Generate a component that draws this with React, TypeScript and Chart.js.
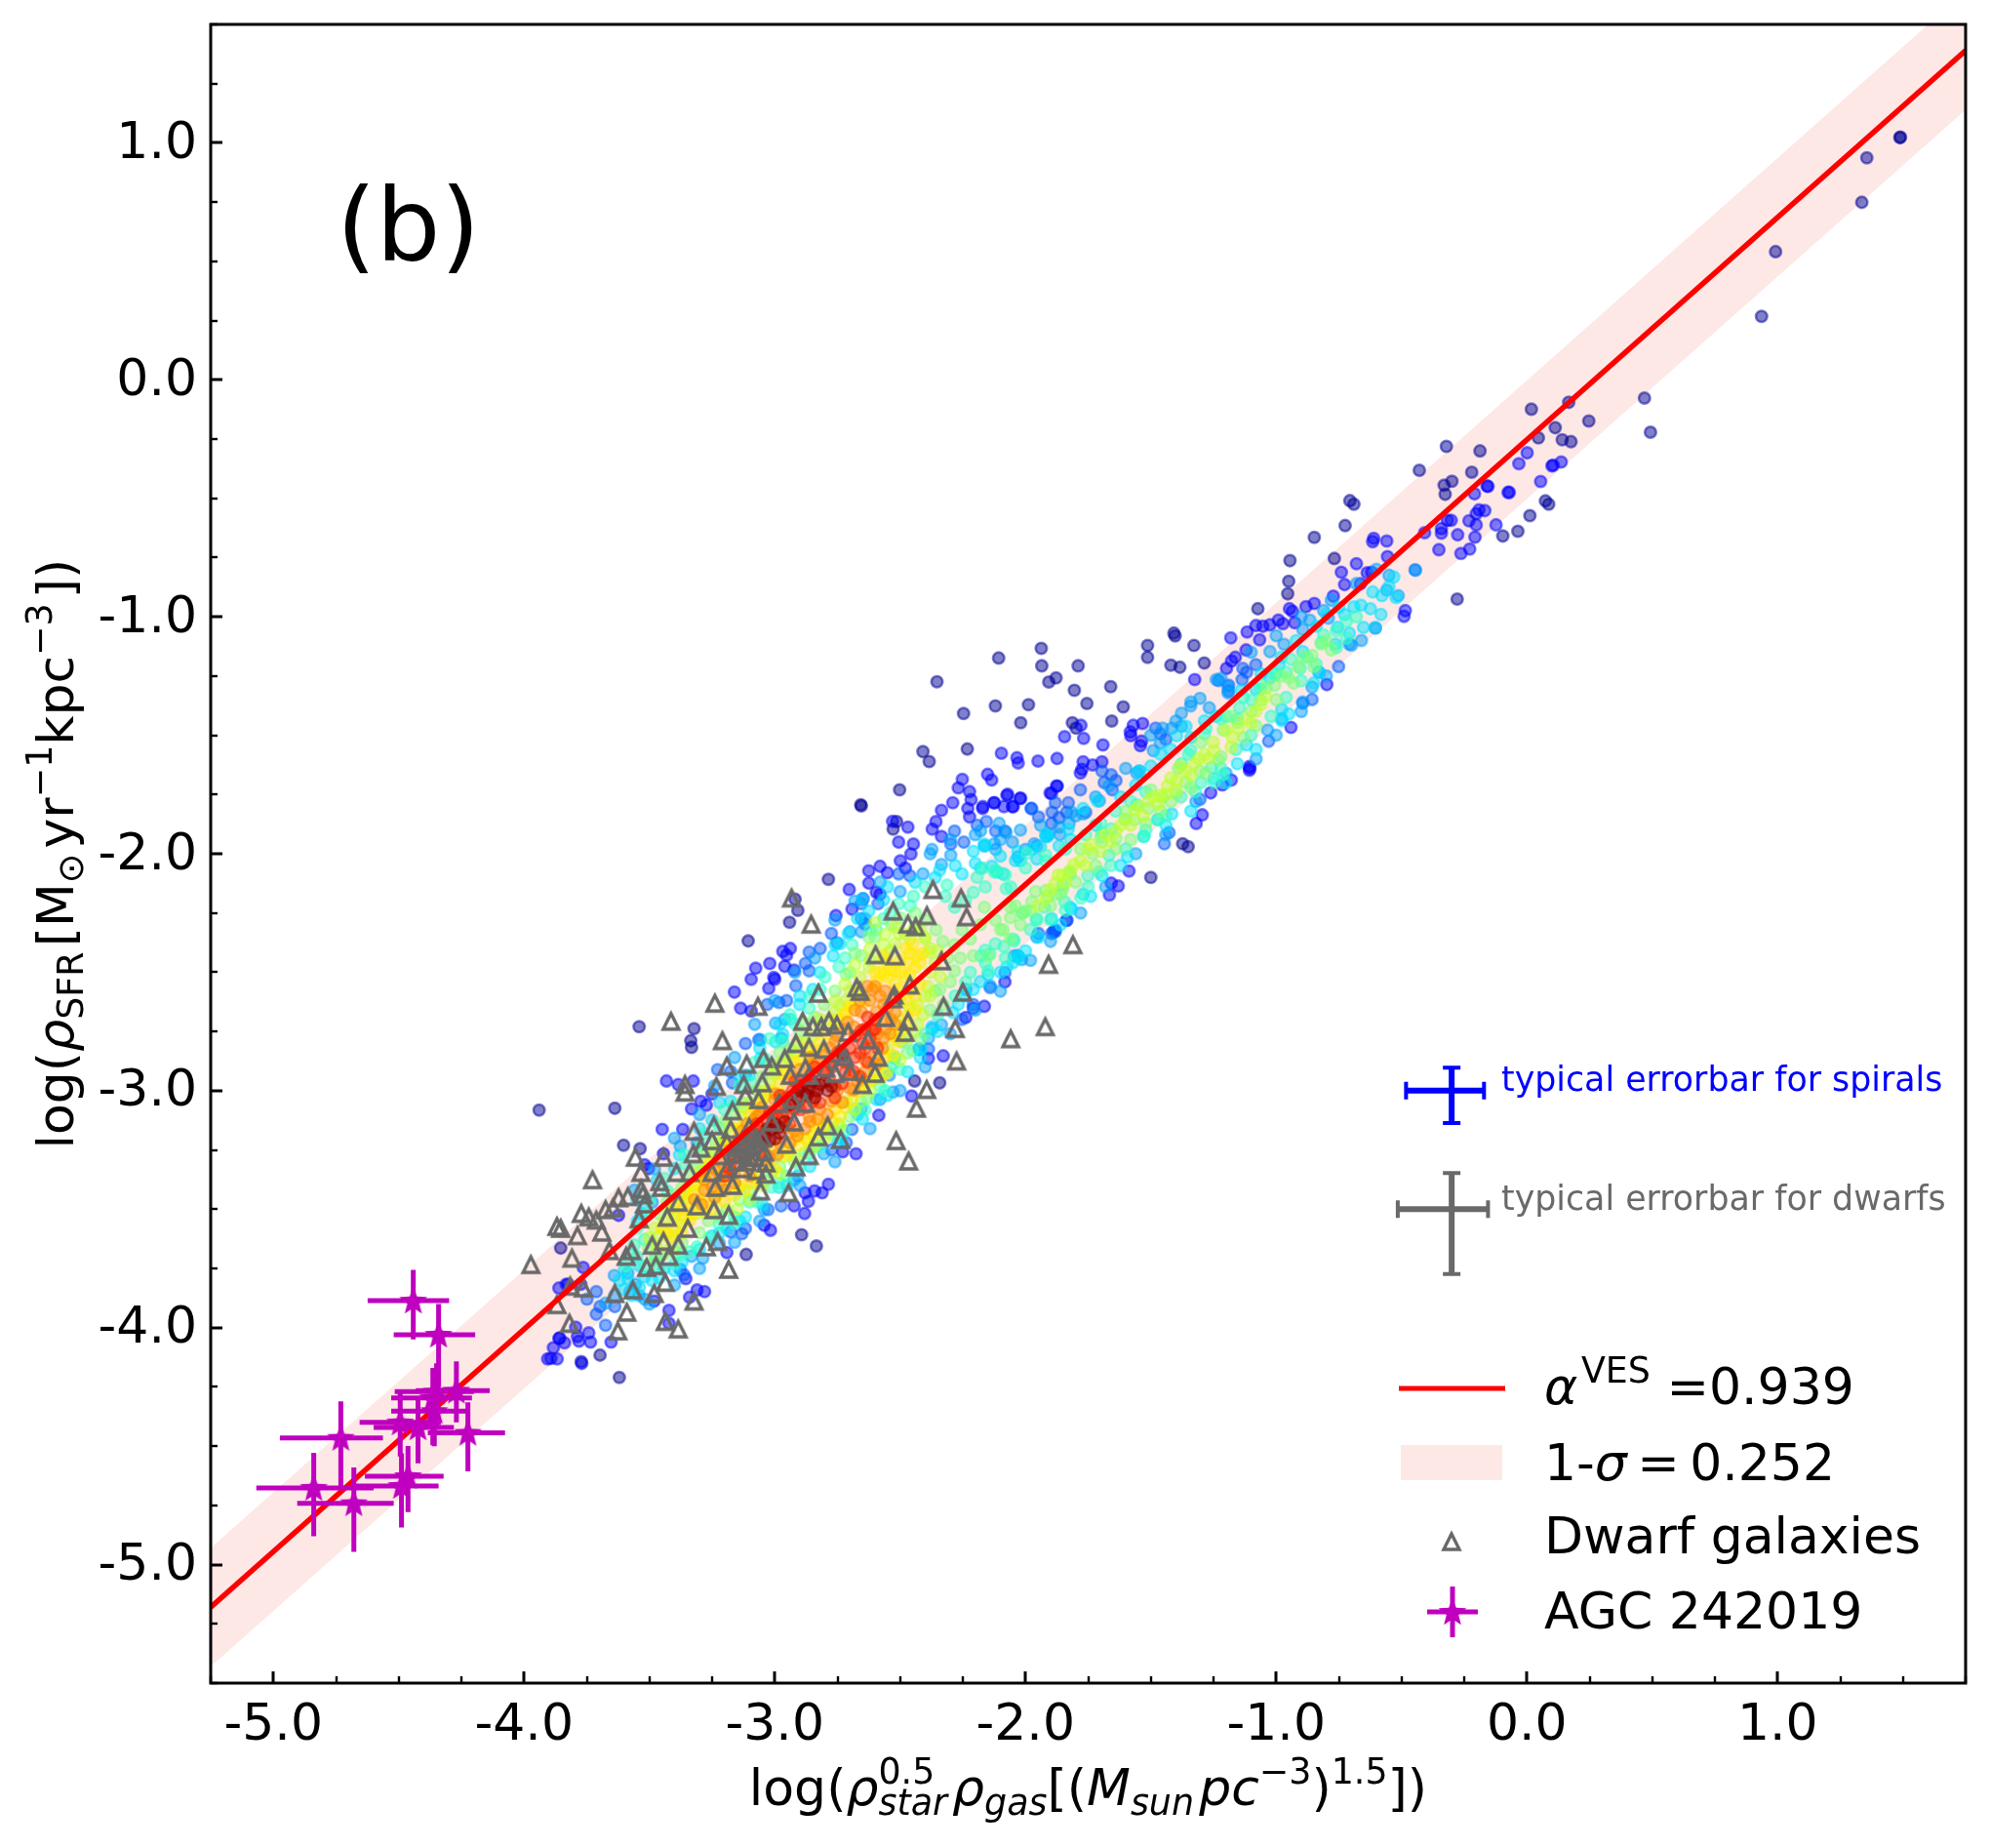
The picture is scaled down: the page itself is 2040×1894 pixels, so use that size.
import React, { useEffect, useRef } from "react";
import { Chart, registerables } from "chart.js";

Chart.register(...registerables);

const FONT = '"DejaVu Sans"';

const fitX = [-5.25, 1.75];
const fitY = [-5.18, 1.39];
const bandUpperY = [-4.93, 1.64];
const bandLowerY = [-5.43, 1.14];

const navyPoints = [[1.488,1.022],[1.49,1.024],[1.356,0.937],[1.336,0.749],[0.992,0.541],[0.936,0.268],[0.469,-0.077],[0.493,-0.221],[0.018,-0.124],[0.167,-0.095],[0.247,-0.174],[0.113,-0.202],[0.046,-0.245],[0.141,-0.253],[0.176,-0.261],[-0.321,-0.281],[-0.187,-0.3],[-0.429,-0.382],[-0.22,-0.39],[-0.299,-0.428],[-0.33,-0.445],[-0.326,-0.483],[-0.706,-0.51],[-0.69,-0.525],[0.074,-0.511],[0.087,-0.525],[0.012,-0.573],[-0.036,-0.639],[-0.096,-0.659],[-0.725,-0.615],[-0.848,-0.665],[-0.768,-0.754],[-0.945,-0.763],[-0.95,-0.85],[-0.954,-0.903],[-0.278,-0.925],[-1.073,-0.966],[-1.408,-1.069],[-1.403,-1.081],[-1.513,-1.121],[-1.513,-1.171],[-1.328,-1.121],[-1.937,-1.133],[-2.107,-1.174],[-1.935,-1.207],[-1.79,-1.207],[-1.907,-1.275],[-1.878,-1.258],[-1.42,-1.204],[-1.384,-1.213],[-1.287,-1.195],[-1.805,-1.31],[-1.66,-1.295],[-1.755,-1.366],[-1.61,-1.38],[-2.12,-1.376],[-1.988,-1.371],[-2.019,-1.447],[-1.656,-1.44],[-1.813,-1.447],[-1.798,-1.47],[-1.5,-2.1],[-1.373,-1.958],[-1.351,-1.97],[-2.353,-1.274],[-2.232,-1.558],[-2.247,-1.408],[-2.409,-1.569],[-2.384,-1.611],[-2.657,-1.793],[-2.502,-1.73],[-2.655,-1.798],[-2.514,-1.864],[-2.528,-1.896],[-2.786,-2.108],[-2.919,-2.192],[-2.908,-2.239],[-2.941,-2.289],[-3.106,-2.368],[-3.541,-2.73],[-3.322,-2.738],[-3.335,-2.789],[-3.332,-2.817],[-3.94,-3.082],[-3.638,-3.074],[-3.603,-3.23],[-3.537,-3.245],[-3.854,-3.664],[-2.893,-3.608],[-2.834,-3.655],[-3.114,-3.691],[-3.772,-4.143],[-3.697,-4.116],[-3.62,-4.21],[-2.342,-2.967],[-2.442,-2.959]];

const bluePoints = [[0.001,-0.308],[-0.032,-0.354],[0.137,-0.347],[0.1,-0.363],[0.105,-0.36],[0.055,-0.429],[-0.159,-0.448],[-0.155,-0.45],[-0.209,-0.481],[-0.075,-0.475],[-0.07,-0.475],[-0.191,-0.549],[-0.168,-0.552],[-0.202,-0.565],[-0.317,-0.593],[-0.302,-0.593],[-0.231,-0.595],[-0.202,-0.612],[-0.123,-0.612],[-0.207,-0.664],[-0.276,-0.654],[-0.341,-0.628],[-0.341,-0.647],[-0.408,-0.645],[-0.611,-0.669],[-0.615,-0.683],[-0.559,-0.68],[-0.351,-0.717],[-0.263,-0.733],[-0.228,-0.714],[-0.556,-0.746],[-0.68,-0.776],[-0.74,-0.812],[-0.619,-0.812],[-0.637,-0.814],[-0.727,-0.864],[-0.664,-0.861],[-0.772,-0.913],[-0.947,-0.966],[-0.935,-0.977],[-0.881,-0.957],[-0.848,-0.944],[-0.485,-0.974],[-0.49,-0.998],[-0.926,-1.025],[-1.081,-1.037],[-1.053,-1.04],[-1.025,-1.034],[-0.991,-1.014],[-0.973,-1.029],[-1.116,-1.064],[-1.181,-1.089],[-1.066,-1.097],[-1.12,-1.14],[-1.163,-1.171],[-1.178,-1.187],[-1.198,-1.218],[-1.325,-1.265],[-1.779,-1.458],[-1.844,-1.506],[-1.768,-1.513],[-1.57,-1.458],[-1.533,-1.45],[-1.582,-1.486],[-1.58,-1.502],[-1.537,-1.525],[-1.542,-1.544],[-1.691,-1.541],[-2.096,-1.576],[-2.029,-1.617],[-1.95,-1.609],[-1.874,-1.598],[-1.77,-1.612],[-1.695,-1.612],[-1.732,-1.625],[-1.775,-1.644],[-1.781,-1.659],[-1.107,-1.632],[-1.107,-1.648],[-1.105,-1.64],[-2.135,-1.689],[-1.876,-1.714],[-1.902,-1.744],[-2.071,-1.749],[-2.019,-1.765],[-2.124,-1.785],[-2.17,-1.801],[-2.086,-1.801],[-2.049,-1.801],[-1.179,-1.689],[-1.215,-1.71],[-1.261,-1.743],[-1.295,-1.836],[-1.319,-1.872],[-1.587,-2.073],[-1.658,-2.124],[-1.63,-2.136],[-1.665,-2.174],[-0.941,-1.467],[-0.798,-1.286],[-2.252,-1.686],[-2.217,-1.772],[-2.151,-1.665],[-2.034,-1.595],[-2.53,-1.863],[-2.469,-1.888],[-2.703,-2.151],[-2.625,-2.072],[-2.58,-2.053],[-2.551,-2.08],[-2.625,-2.124],[-2.499,-2.03],[-2.479,-2.061],[-2.447,-1.959],[-2.506,-1.951],[-2.457,-2.001],[-2.372,-1.896],[-2.335,-1.927],[-2.357,-1.864],[-2.335,-1.817],[-2.29,-1.785],[-2.268,-1.722],[-2.223,-1.738],[-2.23,-1.809],[-2.223,-1.845],[-2.171,-1.809],[-2.126,-1.785],[-2.074,-1.754],[-2.022,-1.767],[-2.052,-1.801],[-1.896,-1.746],[-1.873,-1.715],[-2.756,-2.261],[-2.692,-2.234],[-2.648,-2.19],[-2.595,-2.163],[-2.58,-2.171],[-2.968,-2.412],[-2.938,-2.4],[-2.953,-2.428],[-3.076,-2.483],[-3.02,-2.463],[-2.96,-2.475],[-2.923,-2.491],[-3.094,-2.53],[-3.0,-2.53],[-3.004,-2.522],[-3.024,-2.568],[-3.161,-2.584],[-3.136,-2.652],[-3.094,-2.664],[-2.454,-3.022],[-2.328,-2.853],[-2.387,-2.864],[-2.585,-3.104],[-3.432,-2.959],[-3.385,-2.974],[-3.325,-2.959],[-3.295,-3.045],[-3.332,-3.077],[-3.273,-3.061],[-3.25,-3.014],[-3.449,-3.163],[-3.367,-3.163],[-2.879,-3.431],[-2.841,-3.423],[-2.811,-3.431],[-2.866,-3.467],[-2.923,-3.486],[-2.881,-3.518],[-2.786,-3.395],[-3.042,-3.568],[-3.017,-3.589],[-2.676,-3.266],[-2.729,-3.258],[-2.164,-2.644],[-2.208,-2.652],[-2.238,-2.691],[-2.082,-2.541],[-1.888,-2.329],[-1.836,-2.281],[-3.28,-3.848],[-3.31,-3.841],[-3.34,-3.872],[-3.355,-3.793],[-3.422,-3.927],[-3.422,-3.982],[-3.764,-3.746],[-3.861,-3.833],[-3.824,-3.817],[-3.481,-3.888],[-3.883,-4.085],[-3.861,-4.045],[-3.906,-4.132],[-3.868,-4.132],[-3.893,-4.13],[-3.787,-4.037],[-3.794,-3.998],[-3.742,-4.022],[-3.735,-4.061],[-3.653,-4.061],[-3.519,-3.313],[-3.504,-3.329],[-3.444,-3.266],[-3.623,-3.526],[-3.191,-3.683],[-3.832,-3.817],[-3.774,-3.817],[-3.858,-4.044],[-3.839,-4.064],[-3.781,-4.057],[-3.77,-4.151]];

const azurePoints = [[-0.446,-0.802],[-1.19,-1.289],[-1.19,-1.313],[-1.081,-1.202],[-1.133,-1.218],[-1.118,-1.234],[-1.136,-1.265],[-1.23,-1.269],[-1.481,-1.47],[-1.462,-1.494],[-1.44,-1.517],[-1.695,-1.651],[-1.658,-1.667],[-1.686,-1.699],[-1.639,-1.691],[-1.654,-1.73],[-1.781,-1.73],[-1.975,-1.809],[-1.894,-1.825],[-1.881,-1.785],[-1.829,-1.785],[-1.76,-1.825],[-1.304,-1.77],[-1.446,-1.958],[-1.427,-1.911],[-1.835,-2.281],[-1.881,-2.329],[-1.03,-1.525],[-0.857,-1.349],[-0.894,-1.365],[-0.751,-1.21],[-0.604,-1.048],[-3.712,-3.848],[-3.749,-3.88],[-3.697,-3.911],[-3.712,-3.943],[-3.675,-3.99],[-3.638,-3.911],[-3.377,-3.754],[-3.362,-3.777],[-3.131,-3.604],[-3.117,-3.581],[-3.176,-3.596],[-2.975,-3.486],[-3.027,-3.502],[-2.692,-3.163],[-2.715,-3.219],[-2.774,-3.25],[-3.169,-2.967],[-3.176,-2.919],[-3.228,-2.911],[-3.064,-2.785],[-3.117,-2.801],[-2.983,-2.628],[-2.953,-2.62],[-3.03,-2.636],[-2.863,-2.415],[-2.819,-2.4],[-2.878,-2.463],[-2.863,-2.494],[-2.916,-2.557],[-2.774,-2.337],[-2.752,-2.376],[-2.655,-2.274],[-2.64,-2.297],[-2.655,-2.211],[-2.588,-2.211],[-2.506,-2.085],[-2.461,-2.093],[-2.283,-1.904],[-2.246,-1.951],[-2.298,-1.959],[-2.193,-1.88],[-2.156,-1.864],[-2.119,-1.904],[-2.082,-1.904],[-1.978,-1.809],[-1.948,-1.845],[-1.896,-1.872],[-1.866,-1.848],[-1.836,-1.825],[-1.896,-2.337],[-1.881,-2.321],[-1.948,-2.337],[-2.082,-2.502],[-2.03,-2.431],[-2.141,-2.565],[-2.208,-2.636],[-2.253,-2.699],[-2.387,-2.825],[-2.424,-2.825]];

const skyPoints = [[-0.55,-0.825],[-0.444,-0.804],[-0.559,-0.887],[-0.513,-0.911],[-0.792,-1.006],[-0.708,-1.116],[-0.829,-1.234],[-0.857,-1.297],[-0.894,-1.36],[-1.034,-1.478],[-0.978,-1.431],[-0.811,-0.974],[-0.866,-1.014],[-0.894,-1.053],[-0.969,-1.116],[-1.025,-1.147],[-1.192,-1.297],[-1.192,-1.321],[-1.239,-1.265],[-1.304,-1.344],[-1.341,-1.376],[-1.378,-1.407],[-1.267,-1.384],[-1.453,-1.47],[-1.416,-1.47],[-1.378,-1.462],[-1.49,-1.565],[-1.462,-1.533],[-1.546,-1.651],[-1.556,-1.659],[-1.705,-1.777],[-1.667,-1.714],[-1.816,-1.825],[-1.909,-1.919],[-1.965,-1.958],[-2.124,-1.958],[-2.03,-2.014],[-2.105,-1.872],[-2.179,-1.903],[-2.077,-1.911],[-1.863,-1.919],[-1.826,-1.872],[-1.77,-1.832],[-2.409,-2.085],[-2.373,-1.982],[-2.335,-2.045],[-2.298,-2.006],[-2.164,-1.967],[-2.119,-1.982],[-2.052,-1.951],[-2.0,-1.982],[-1.955,-1.967],[-1.918,-1.927],[-1.866,-1.888],[-2.655,-2.329],[-2.64,-2.274],[-2.7,-2.329],[-2.58,-3.037],[-2.528,-3.006],[-2.543,-2.935],[-2.372,-2.738],[-2.424,-2.825],[-2.387,-2.778],[-2.335,-2.722],[-2.238,-2.573],[-2.141,-2.557],[-2.045,-2.431],[-1.955,-2.352],[-2.015,-2.447],[-2.997,-2.715],[-2.96,-2.699],[-2.975,-2.778],[-3.057,-2.785],[-3.586,-3.77],[-3.578,-3.848],[-3.556,-3.817],[-3.519,-3.88],[-3.541,-3.864],[-3.638,-3.864],[-3.675,-3.896],[-3.332,-3.699],[-3.287,-3.707],[-3.221,-3.644],[-3.042,-3.502],[-2.923,-3.376],[-2.908,-3.36],[-2.804,-3.266],[-2.655,-3.077],[-3.377,-3.234],[-3.31,-3.219],[-3.489,-3.471],[-3.117,-2.935],[-2.38,-2.0],[-2.3,-1.94],[-2.2,-1.92],[-2.1,-1.94],[-2.02,-1.9],[-1.94,-1.88],[-2.5,-2.16],[-2.58,-2.12],[-2.68,-2.2],[-2.76,-2.28],[-2.84,-2.44],[-2.92,-2.5],[-3.0,-2.62],[-3.08,-2.72],[-3.16,-2.86],[-3.24,-2.98],[-3.3,-3.1],[-3.4,-3.2],[-3.48,-3.33],[-3.56,-3.42],[-3.64,-3.78],[-3.5,-3.9],[-3.4,-3.82],[-3.3,-3.75],[-3.16,-3.64],[-3.06,-3.55],[-2.9,-3.4],[-2.76,-3.3],[-2.62,-3.16],[-2.5,-3.0],[-2.4,-2.9],[-2.3,-2.76],[-2.2,-2.66],[-2.1,-2.58],[-1.98,-2.45],[-1.9,-2.37],[-1.78,-2.25],[-1.68,-2.14],[-1.56,-2.0],[-1.44,-1.92],[-1.32,-1.78],[-1.2,-1.66],[-1.08,-1.6],[-1.0,-1.5],[-0.9,-1.4],[-0.8,-1.25],[-0.7,-1.12],[-0.66,-1.1],[-1.4,-1.44],[-1.5,-1.5],[-1.6,-1.64],[-1.72,-1.76],[-1.8,-1.84],[-1.34,-1.36],[-1.22,-1.26],[-1.1,-1.15],[-1.0,-1.08],[-0.9,-1.0],[-0.78,-0.93],[-0.68,-0.86],[-0.6,-0.8]];

const cyanPoints = [[-3.6,-3.754],[-3.586,-3.793],[-3.541,-3.738],[-3.519,-3.786],[-3.571,-3.864],[-3.489,-3.802],[-3.444,-3.754],[-3.37,-3.723],[-3.25,-3.612],[-3.191,-3.581],[-3.117,-3.533],[-2.983,-3.408],[-2.737,-3.203],[-2.67,-3.1],[-2.595,-3.037],[-2.521,-2.864],[-3.533,-3.518],[-3.548,-3.55],[-3.519,-3.486],[-3.4,-3.329],[-3.25,-3.124],[-3.176,-3.045],[-3.102,-2.935],[-3.057,-2.864],[-2.997,-2.794],[-2.968,-2.762],[-2.938,-2.699],[-2.901,-2.636],[-2.848,-2.573],[-2.767,-2.431],[-2.759,-2.384],[-2.707,-2.337],[-2.67,-2.274],[-2.625,-2.242],[-2.566,-2.195],[-2.342,-2.069],[-2.253,-2.085],[-2.208,-1.99],[-2.164,-1.959],[-2.134,-2.053],[-2.089,-2.085],[-2.03,-1.99],[-1.955,-2.022],[-1.911,-1.927],[-1.866,-1.967],[-1.829,-1.896],[-2.372,-2.73],[-2.417,-2.825],[-2.268,-2.636],[-2.208,-2.573],[-2.149,-2.51],[-2.03,-2.431],[-2.074,-2.478],[-1.896,-2.274],[-1.821,-2.226],[-0.615,-0.895],[-0.578,-0.911],[-0.522,-0.919],[-0.55,-0.872],[-0.531,-0.832],[-0.69,-0.958],[-0.662,-0.951],[-0.624,-0.966],[-0.582,-0.99],[-0.727,-0.99],[-0.755,-1.045],[-0.708,-1.069],[-0.652,-1.045],[-0.606,-1.045],[-0.764,-1.116],[-0.829,-1.234],[-0.978,-1.391],[-0.978,-1.439],[-1.118,-1.541],[-1.155,-1.62],[-1.248,-1.683],[-1.416,-1.832],[-1.472,-1.856],[-1.528,-1.927],[-1.593,-2.014],[-1.695,-2.092],[-1.77,-2.171],[-1.816,-2.234],[-1.947,-2.352],[-2.03,-2.439],[-0.988,-1.202],[-1.025,-1.258],[-1.081,-1.305],[-0.894,-1.147],[-1.286,-1.439],[-1.36,-1.462],[-1.397,-1.502],[-1.462,-1.58],[-1.546,-1.651],[-1.714,-1.777],[-1.77,-1.809],[-1.919,-1.919],[-1.975,-1.982],[-2.04,-2.029],[-2.114,-2.077],[-2.161,-1.966],[-2.179,-2.061],[-3.62,-3.8],[-3.6,-3.84],[-3.54,-3.83],[-3.46,-3.79],[-3.4,-3.76],[-3.3,-3.67],[-3.22,-3.6],[-3.14,-3.55],[-3.05,-3.48],[-2.95,-3.4],[-2.86,-3.32],[-2.75,-3.22],[-2.65,-3.12],[-2.55,-3.02],[-2.47,-2.92],[-2.42,-2.86],[-2.35,-2.75],[-2.29,-2.67],[-2.24,-2.6],[-2.18,-2.54],[-2.1,-2.5],[-2.05,-2.46],[-3.55,-3.46],[-3.47,-3.38],[-3.38,-3.27],[-3.3,-3.16],[-3.22,-3.05],[-3.14,-2.94],[-3.06,-2.82],[-2.98,-2.72],[-2.9,-2.6],[-2.82,-2.5],[-2.74,-2.38],[-2.65,-2.19],[-2.55,-2.14],[-2.44,-2.12],[-2.36,-2.1],[-2.28,-2.05],[-2.2,-2.04],[-2.1,-2.01],[-2.02,-2.03],[-1.94,-1.97],[-1.82,-1.94],[-1.72,-1.88],[-1.62,-1.76],[-1.56,-1.71],[-1.5,-1.63],[-1.42,-1.56],[-1.34,-1.51],[-1.24,-1.42],[-1.14,-1.31],[-1.06,-1.24],[-0.98,-1.17],[-0.92,-1.1],[-0.84,-1.04],[-0.8,-0.99],[-0.75,-0.96],[-0.85,-1.28],[-0.95,-1.41],[-1.08,-1.56],[-1.2,-1.7],[-1.34,-1.82],[-1.44,-1.88],[-1.62,-2.05],[-1.74,-2.18],[-1.86,-2.3],[-2.0,-2.41]];

const aquaPoints = [[-0.82,-1.108],[-0.811,-1.077],[-0.876,-1.171],[-0.904,-1.218],[-0.96,-1.234],[-1.006,-1.242],[-1.062,-1.305],[-1.099,-1.352],[-1.146,-1.384],[-1.155,-1.431],[-1.22,-1.431],[-1.286,-1.494],[-1.341,-1.565],[-1.378,-1.62],[-1.258,-1.636],[-1.211,-1.667],[-1.248,-1.699],[-1.323,-1.738],[-1.472,-1.856],[-1.528,-1.927],[-1.556,-1.793],[-1.602,-1.856],[-1.658,-1.895],[-1.695,-1.911],[-1.667,-2.006],[-1.705,-2.077],[-1.751,-2.092],[-1.779,-2.187],[-1.844,-2.203],[-1.956,-2.281],[-2.012,-2.25],[-2.049,-2.36],[-2.142,-2.423],[-2.161,-2.407],[-2.086,-2.391],[-2.17,-2.061],[-2.124,-2.077],[-2.077,-2.147],[-1.993,-1.998],[-1.919,-2.006],[-2.595,-2.321],[-2.566,-2.274],[-2.506,-2.211],[-2.447,-2.179],[-2.313,-2.132],[-2.193,-2.1],[-2.119,-2.069],[-2.059,-2.14],[-2.208,-2.163],[-2.283,-2.226],[-2.178,-2.431],[-2.149,-2.494],[-2.238,-2.541],[-2.045,-2.368],[-1.925,-2.226],[-1.851,-2.132],[-1.955,-2.274],[-3.593,-3.738],[-3.571,-3.691],[-3.519,-3.628],[-3.474,-3.707],[-3.37,-3.691],[-3.31,-3.659],[-3.221,-3.565],[-3.161,-3.533],[-3.102,-3.47],[-3.012,-3.407],[-2.953,-3.36],[-2.863,-3.266],[-2.759,-3.171],[-2.685,-3.077],[-2.58,-2.982],[-2.528,-2.888],[-2.491,-2.793],[-3.504,-3.518],[-3.429,-3.423],[-3.355,-3.313],[-3.295,-3.234],[-3.221,-3.155],[-3.161,-3.061],[-3.094,-2.967],[-3.042,-2.864],[-2.968,-2.793],[-2.923,-2.715],[-2.863,-2.652],[-2.819,-2.573],[-2.744,-2.478],[-2.692,-2.384],[-3.55,-3.7],[-3.52,-3.74],[-3.46,-3.75],[-3.4,-3.73],[-3.34,-3.68],[-3.26,-3.62],[-3.16,-3.56],[-3.07,-3.47],[-2.98,-3.39],[-2.9,-3.32],[-2.82,-3.24],[-2.72,-3.17],[-2.64,-3.08],[-2.56,-3.0],[-2.5,-2.91],[-2.45,-2.83],[-2.4,-2.76],[-2.35,-2.68],[-2.28,-2.6],[-2.22,-2.5],[-2.16,-2.46],[-2.12,-2.38],[-2.08,-2.44],[-1.98,-2.32],[-1.9,-2.28],[-1.84,-2.24],[-1.75,-2.14],[-1.66,-2.05],[-1.6,-1.98],[-1.52,-1.9],[-1.44,-1.84],[-1.38,-1.76],[-1.3,-1.7],[-1.22,-1.64],[-1.16,-1.56],[-1.1,-1.5],[-1.02,-1.42],[-0.96,-1.34],[-0.9,-1.27],[-0.84,-1.2],[-0.76,-1.13],[-0.72,-1.09],[-0.76,-1.06],[-0.72,-1.02],[-0.68,-1.0],[-0.94,-1.18],[-1.0,-1.24],[-1.06,-1.28],[-1.13,-1.34],[-1.2,-1.42],[-1.28,-1.47],[-1.35,-1.58],[-1.52,-1.74],[-1.58,-1.78],[-1.64,-1.82],[-1.7,-1.87],[-1.76,-1.92],[-1.84,-1.98],[-1.92,-2.03],[-2.0,-2.06],[-2.08,-2.09],[-2.16,-2.14],[-2.24,-2.2],[-2.32,-2.18],[-2.4,-2.14],[-2.46,-2.22],[-2.54,-2.25],[-2.62,-2.32],[-2.72,-2.44],[-2.8,-2.52],[-2.86,-2.6],[-2.94,-2.68],[-3.02,-2.78],[-3.08,-2.88],[-3.14,-2.98],[-3.2,-3.08],[-3.28,-3.18],[-3.36,-3.27],[-3.44,-3.37],[-3.5,-3.46],[-3.55,-3.58],[-3.56,-3.65]];

const greenPoints = [[-3.504,-3.66],[-3.444,-3.691],[-3.37,-3.644],[-3.265,-3.549],[-3.191,-3.502],[-3.102,-3.423],[-3.012,-3.345],[-2.923,-3.297],[-2.834,-3.226],[-2.744,-3.14],[-2.655,-3.045],[-2.55,-2.919],[-2.521,-2.856],[-3.429,-3.471],[-3.37,-3.408],[-3.31,-3.329],[-3.236,-3.219],[-3.161,-3.093],[-3.072,-2.998],[-3.012,-2.888],[-2.938,-2.825],[-2.878,-2.715],[-2.804,-2.636],[-2.715,-2.51],[-2.655,-2.431],[-2.625,-2.352],[-2.536,-2.297],[-2.357,-2.321],[-2.283,-2.384],[-2.253,-2.321],[-2.164,-2.226],[-2.089,-2.321],[-2.149,-2.431],[-2.059,-2.226],[-2.0,-2.242],[-1.911,-2.179],[-1.851,-2.148],[-1.821,-2.085],[-2.327,-2.636],[-2.342,-2.573],[-2.283,-2.494],[-2.208,-2.431],[-2.012,-2.25],[-1.975,-2.203],[-1.919,-2.155],[-1.881,-2.171],[-1.826,-2.077],[-1.732,-2.0],[-1.695,-1.951],[-1.639,-1.935],[-1.565,-1.856],[-1.509,-1.809],[-1.453,-1.762],[-1.397,-1.746],[-1.36,-1.699],[-1.304,-1.651],[-1.23,-1.604],[-1.211,-1.478],[-1.155,-1.447],[-1.099,-1.399],[-1.062,-1.352],[-1.006,-1.289],[-0.95,-1.258],[-0.913,-1.21],[-0.857,-1.163],[-0.82,-1.116],[-2.1,-2.32],[-2.06,-2.27],[-2.04,-2.22],[-1.98,-2.24],[-1.96,-2.16],[-1.9,-2.22],[-1.86,-2.17],[-1.8,-2.12],[-1.78,-1.98],[-1.72,-2.05],[-1.7,-1.93],[-1.64,-1.98],[-1.6,-1.82],[-1.58,-1.94],[-1.52,-1.87],[-1.5,-1.73],[-1.46,-1.82],[-1.42,-1.78],[-1.39,-1.64],[-1.34,-1.72],[-1.3,-1.53],[-1.28,-1.66],[-1.22,-1.59],[-1.18,-1.42],[-1.13,-1.51],[-1.08,-1.46],[-1.04,-1.3],[-1.0,-1.35],[-0.98,-1.25],[-0.93,-1.28],[-0.89,-1.17],[-0.85,-1.21],[-0.8,-1.1],[-0.78,-1.14],[-3.46,-3.52],[-3.4,-3.44],[-3.34,-3.36],[-3.28,-3.26],[-3.2,-3.13],[-3.13,-3.05],[-3.05,-2.94],[-2.98,-2.84],[-2.9,-2.75],[-2.84,-2.69],[-2.76,-2.58],[-2.7,-2.5],[-2.68,-2.42],[-2.6,-2.35],[-2.5,-2.27],[-2.44,-2.25],[-2.4,-2.28],[-2.33,-2.37],[-2.31,-2.44],[-2.3,-2.54],[-2.38,-2.66],[-2.42,-2.78],[-2.47,-2.84],[-2.36,-2.58],[-2.26,-2.44],[-2.22,-2.36],[-2.18,-2.3],[-2.12,-2.28],[-2.06,-2.36],[-2.02,-2.3],[-3.48,-3.71],[-3.4,-3.68],[-3.3,-3.6],[-3.22,-3.53],[-3.14,-3.46],[-3.04,-3.38],[-2.98,-3.32],[-2.88,-3.26],[-2.78,-3.18],[-2.7,-3.11],[-2.63,-3.03]];

const limePoints = [[-1.881,-2.124],[-1.853,-2.092],[-1.807,-2.045],[-1.751,-1.982],[-1.639,-1.903],[-1.602,-1.856],[-1.565,-1.817],[-1.509,-1.777],[-1.462,-1.754],[-1.434,-1.714],[-1.397,-1.691],[-1.36,-1.651],[-1.323,-1.62],[-1.286,-1.581],[-1.248,-1.565],[-1.174,-1.51],[-1.081,-1.399],[-1.043,-1.336],[-2.506,-2.337],[-2.447,-2.321],[-2.402,-2.352],[-2.387,-2.415],[-2.566,-2.384],[-2.625,-2.478],[-2.67,-2.573],[-2.715,-2.62],[-2.759,-2.667],[-2.819,-2.699],[-2.461,-2.652],[-2.506,-2.699],[-2.521,-2.762],[-3.459,-3.612],[-3.4,-3.612],[-3.37,-3.565],[-3.31,-3.518],[-3.236,-3.455],[-3.146,-3.407],[-3.072,-3.36],[-2.968,-3.281],[-2.878,-3.203],[-2.796,-3.14],[-2.715,-3.045],[-2.61,-2.951],[-2.55,-2.825],[-3.4,-3.518],[-3.355,-3.455],[-3.281,-3.36],[-3.236,-3.266],[-3.131,-3.108],[-3.042,-3.03],[-2.997,-2.919],[-2.908,-2.793],[-3.5,-3.62],[-3.47,-3.66],[-3.44,-3.55],[-3.42,-3.67],[-3.38,-3.45],[-3.32,-3.4],[-3.27,-3.3],[-3.22,-3.22],[-3.18,-3.15],[-3.15,-3.5],[-3.1,-3.46],[-3.1,-3.05],[-3.05,-3.4],[-3.02,-2.97],[-2.98,-3.35],[-2.97,-2.88],[-2.92,-3.28],[-2.92,-2.84],[-2.85,-2.77],[-2.85,-3.24],[-2.8,-3.2],[-2.78,-2.7],[-2.74,-2.64],[-2.74,-3.15],[-2.7,-2.58],[-2.68,-3.08],[-2.62,-3.0],[-2.62,-2.45],[-2.58,-2.95],[-2.56,-2.34],[-2.5,-2.87],[-2.47,-2.78],[-2.48,-2.34],[-2.43,-2.72],[-2.43,-2.64],[-2.4,-2.6],[-2.38,-2.5],[-2.38,-2.4],[-2.36,-2.46],[-2.42,-2.32],[-2.52,-2.38],[-1.95,-2.22],[-1.92,-2.19],[-1.9,-2.15],[-1.87,-2.09],[-1.84,-2.12],[-1.82,-2.07],[-1.78,-2.03],[-1.76,-2.05],[-1.74,-1.96],[-1.7,-1.99],[-1.68,-1.92],[-1.66,-1.95],[-1.62,-1.88],[-1.58,-1.88],[-1.55,-1.8],[-1.53,-1.84],[-1.49,-1.76],[-1.47,-1.79],[-1.44,-1.75],[-1.42,-1.68],[-1.4,-1.73],[-1.38,-1.63],[-1.34,-1.67],[-1.31,-1.6],[-1.27,-1.6],[-1.25,-1.53],[-1.2,-1.48],[-1.18,-1.55],[-1.15,-1.47],[-1.12,-1.43],[-1.1,-1.45],[-1.06,-1.37],[-2.62,-2.4],[-2.58,-2.44],[-2.54,-2.41],[-2.6,-2.29],[-2.52,-2.31],[-2.46,-2.36],[-2.44,-2.31],[-2.4,-2.36],[-2.35,-2.41],[-2.34,-2.52],[-2.39,-2.56],[-2.41,-2.68],[-2.38,-2.6],[-2.45,-2.75],[-2.66,-2.52],[-2.72,-2.55],[-2.68,-2.47],[-2.76,-2.62],[-2.82,-2.73],[-2.88,-2.8],[-2.95,-2.86],[-3.0,-2.93],[-3.06,-3.0],[-3.12,-3.07],[-3.2,-3.19],[-3.25,-3.26],[-3.3,-3.34],[-3.36,-3.42],[-3.42,-3.5],[-3.48,-3.58]];

const yellowPoints = [[-3.4,-3.581],[-3.34,-3.55],[-3.37,-3.502],[-3.28,-3.455],[-3.206,-3.407],[-3.102,-3.345],[-3.012,-3.25],[-2.923,-3.203],[-2.834,-3.14],[-2.759,-3.077],[-2.655,-2.951],[-2.58,-2.888],[-2.506,-2.793],[-2.476,-2.62],[-2.461,-2.51],[-2.432,-2.431],[-2.476,-2.4],[-2.521,-2.494],[-2.595,-2.541],[-2.64,-2.62],[-2.715,-2.667],[-2.789,-2.762],[-2.863,-2.856],[-2.953,-2.919],[-3.057,-3.045],[-3.131,-3.155],[-3.191,-3.234],[-3.265,-3.329],[-3.325,-3.423],[-2.566,-2.431],[-2.506,-2.573],[-2.566,-2.51],[-3.45,-3.58],[-3.42,-3.62],[-3.4,-3.53],[-3.37,-3.6],[-3.35,-3.47],[-3.33,-3.52],[-3.3,-3.4],[-3.28,-3.51],[-3.25,-3.5],[-3.22,-3.35],[-3.2,-3.47],[-3.16,-3.44],[-3.18,-3.22],[-3.12,-3.42],[-3.1,-3.1],[-3.07,-3.38],[-3.04,-3.02],[-3.0,-3.33],[-2.98,-2.97],[-2.95,-3.27],[-2.92,-2.88],[-2.9,-3.23],[-2.87,-2.82],[-2.85,-3.19],[-2.82,-2.8],[-2.8,-3.15],[-2.76,-2.72],[-2.74,-3.11],[-2.72,-2.68],[-2.69,-3.04],[-2.68,-2.63],[-2.66,-3.0],[-2.62,-2.96],[-2.6,-2.5],[-2.56,-2.93],[-2.55,-2.46],[-2.53,-2.85],[-2.5,-2.45],[-2.5,-2.75],[-2.48,-2.52],[-2.46,-2.58],[-2.47,-2.68],[-2.44,-2.48],[-2.42,-2.55],[-2.52,-2.55],[-2.55,-2.52],[-2.5,-2.62],[-2.45,-2.38],[-2.41,-2.42],[-2.47,-2.46],[-2.58,-2.5],[-2.54,-2.49],[-2.5,-2.5],[-2.46,-2.42],[-2.42,-2.46],[-2.44,-2.6],[-2.44,-2.66],[-2.48,-2.72],[-2.52,-2.78],[-2.56,-2.86],[-2.6,-2.92],[-2.65,-2.97],[-2.72,-3.07],[-2.77,-3.13],[-2.83,-3.17],[-2.87,-3.21],[-2.96,-3.25],[-3.03,-3.31],[-3.09,-3.39],[-3.14,-3.4],[-3.22,-3.43],[-3.3,-3.47],[-3.36,-3.54],[-3.43,-3.6],[-2.66,-2.58],[-2.7,-2.64],[-2.75,-2.7],[-2.83,-2.83],[-2.9,-2.87],[-2.96,-2.93],[-3.02,-3.0],[-3.08,-3.07],[-3.15,-3.16],[-3.2,-3.23],[-3.26,-3.31],[-3.3,-3.37],[-3.35,-3.43],[-3.4,-3.48]];

const orangePoints = [[-3.25,-3.407],[-3.191,-3.36],[-3.117,-3.297],[-3.057,-3.25],[-2.953,-3.155],[-2.863,-3.108],[-2.774,-3.045],[-2.685,-2.998],[-2.595,-2.888],[-2.566,-2.778],[-2.536,-2.699],[-2.595,-2.667],[-2.655,-2.667],[-2.685,-2.73],[-2.759,-2.793],[-2.834,-2.888],[-2.908,-2.951],[-2.997,-3.014],[-3.072,-3.108],[-3.146,-3.203],[-3.221,-3.297],[-3.28,-3.376],[-2.61,-2.573],[-2.566,-2.636],[-3.32,-3.46],[-3.29,-3.48],[-3.26,-3.36],[-3.24,-3.45],[-3.2,-3.42],[-3.18,-3.27],[-3.16,-3.39],[-3.13,-3.17],[-3.1,-3.36],[-3.08,-3.12],[-3.05,-3.07],[-3.05,-3.31],[-3.02,-3.28],[-2.99,-3.27],[-2.97,-3.02],[-2.94,-3.22],[-2.91,-3.19],[-2.9,-2.91],[-2.88,-3.16],[-2.85,-2.89],[-2.83,-3.12],[-2.8,-2.85],[-2.79,-3.1],[-2.75,-2.77],[-2.73,-3.05],[-2.7,-2.99],[-2.71,-2.71],[-2.67,-2.96],[-2.64,-2.92],[-2.62,-2.62],[-2.6,-2.86],[-2.58,-2.6],[-2.57,-2.7],[-2.55,-2.65],[-2.54,-2.76],[-2.52,-2.67],[-2.52,-2.72],[-2.57,-2.82],[-2.59,-2.76],[-2.66,-2.62],[-2.63,-2.56],[-2.6,-2.56],[-2.56,-2.58],[-2.52,-2.6],[-2.56,-2.74],[-2.6,-2.8],[-2.64,-2.87],[-2.69,-2.93],[-2.75,-3.0],[-2.82,-3.08],[-2.86,-3.13],[-2.92,-3.17],[-2.98,-3.22],[-3.04,-3.26],[-3.1,-3.31],[-3.16,-3.35],[-3.22,-3.39],[-3.28,-3.42],[-2.68,-2.66],[-2.72,-2.74],[-2.78,-2.82],[-2.86,-2.86],[-2.94,-2.95],[-3.0,-3.04],[-3.06,-3.1],[-3.11,-3.14],[-3.18,-3.25],[-3.24,-3.33]];

const redPoints = [[-3.102,-3.266],[-3.042,-3.219],[-2.968,-3.108],[-2.923,-3.077],[-2.848,-3.045],[-2.759,-2.982],[-2.685,-2.919],[-2.64,-2.825],[-2.61,-2.746],[-2.655,-2.746],[-2.729,-2.841],[-2.804,-2.919],[-2.878,-2.967],[-2.953,-3.03],[-3.012,-3.108],[-3.072,-3.187],[-3.131,-3.25],[-3.176,-3.313],[-3.16,-3.28],[-3.12,-3.29],[-3.09,-3.22],[-3.06,-3.26],[-3.03,-3.13],[-3.0,-3.1],[-2.98,-3.07],[-2.95,-3.1],[-2.93,-3.0],[-2.9,-3.08],[-2.87,-3.07],[-2.85,-2.93],[-2.82,-3.05],[-2.8,-2.92],[-2.77,-2.9],[-2.76,-3.03],[-2.73,-2.97],[-2.72,-2.88],[-2.7,-2.82],[-2.68,-2.86],[-2.66,-2.94],[-2.65,-2.8],[-2.63,-2.88],[-2.62,-2.78],[-2.6,-2.7],[-2.59,-2.82],[-2.63,-2.69],[-2.68,-2.77],[-2.75,-2.84],[-2.94,-3.14],[-3.07,-3.14],[-3.1,-3.26],[-3.14,-3.22],[-3.18,-3.33],[-3.2,-3.36],[-2.64,-2.74],[-2.6,-2.74],[-2.66,-2.84],[-2.72,-2.92],[-2.78,-2.96],[-2.84,-3.0],[-2.9,-3.04],[-2.96,-3.06],[-3.02,-3.09],[-3.06,-3.17],[-3.1,-3.2],[-3.14,-3.27],[-2.78,-2.88],[-2.84,-2.9],[-2.92,-2.96],[-2.98,-3.02]];

const darkRedPoints = [[-3.042,-3.187],[-2.997,-3.203],[-2.983,-3.155],[-2.908,-3.0],[-2.863,-2.99],[-2.819,-2.974],[-2.774,-2.982],[-2.878,-3.014],[-3.012,-3.163],[-2.73,-2.85],[-2.89,-2.98],[-2.85,-2.96],[-2.83,-3.0],[-2.8,-2.96],[-2.87,-3.02],[-2.91,-3.03],[-2.84,-3.03],[-2.79,-3.0],[-3.03,-3.16],[-3.0,-3.14],[-2.98,-3.18],[-3.02,-3.21],[-2.96,-3.13],[-3.05,-3.22],[-2.94,-3.06]];

const dwarfPoints = [[-2.933,-2.187],[-2.855,-2.297],[-2.528,-2.242],[-2.369,-2.151],[-2.257,-2.187],[-2.235,-2.266],[-2.393,-2.261],[-2.469,-2.297],[-2.438,-2.308],[-2.598,-2.426],[-2.521,-2.431],[-2.335,-2.452],[-1.908,-2.467],[-1.811,-2.384],[-2.461,-2.554],[-2.826,-2.589],[-2.673,-2.565],[-2.66,-2.581],[-2.524,-2.596],[-2.528,-2.612],[-2.25,-2.584],[-2.327,-2.644],[-3.239,-2.631],[-3.067,-2.644],[-3.414,-2.707],[-2.889,-2.707],[-2.848,-2.73],[-2.814,-2.73],[-2.784,-2.707],[-2.752,-2.723],[-2.707,-2.754],[-2.558,-2.691],[-2.469,-2.707],[-2.481,-2.754],[-2.28,-2.738],[-2.059,-2.781],[-1.921,-2.73],[-2.628,-2.785],[-3.209,-2.789],[-2.916,-2.801],[-2.863,-2.817],[-2.804,-2.825],[-2.744,-2.841],[-2.588,-2.859],[-2.275,-2.875],[-3.191,-2.896],[-3.112,-2.888],[-3.045,-2.864],[-3.012,-2.896],[-2.96,-2.864],[-2.878,-2.904],[-2.796,-2.904],[-2.722,-2.856],[-2.7,-2.919],[-2.6,-2.927],[-2.938,-2.935],[-2.863,-2.935],[-2.759,-2.927],[-2.651,-2.974],[-3.358,-2.974],[-3.358,-3.006],[-3.233,-2.982],[-3.124,-2.974],[-3.05,-2.967],[-2.394,-2.995],[-3.117,-3.022],[-3.064,-3.038],[-2.983,-3.053],[-2.93,-3.037],[-2.878,-3.053],[-2.435,-3.074],[-3.169,-3.085],[-3.012,-3.132],[-2.923,-3.132],[-2.789,-3.148],[-3.243,-3.148],[-3.176,-3.163],[-3.102,-3.155],[-2.826,-3.195],[-2.737,-3.206],[-2.516,-3.211],[-3.322,-3.171],[-3.25,-3.211],[-3.191,-3.219],[-3.131,-3.226],[-3.072,-3.203],[-2.953,-3.226],[-3.042,-3.258],[-2.863,-3.274],[-2.466,-3.297],[-3.556,-3.281],[-3.444,-3.281],[-3.325,-3.266],[-3.295,-3.242],[-3.221,-3.274],[-3.161,-3.266],[-3.102,-3.281],[-3.035,-3.305],[-2.916,-3.321],[-3.534,-3.345],[-3.392,-3.345],[-3.459,-3.384],[-3.34,-3.345],[-3.25,-3.345],[-3.191,-3.329],[-3.131,-3.329],[-3.072,-3.337],[-3.035,-3.352],[-3.727,-3.376],[-3.533,-3.415],[-3.623,-3.452],[-3.586,-3.447],[-3.526,-3.439],[-3.452,-3.408],[-3.236,-3.408],[-3.169,-3.4],[-3.057,-3.423],[-2.945,-3.431],[-3.385,-3.471],[-3.31,-3.486],[-3.243,-3.502],[-3.184,-3.526],[-3.645,-3.494],[-3.675,-3.502],[-3.772,-3.518],[-3.742,-3.533],[-3.712,-3.546],[-3.519,-3.478],[-3.541,-3.541],[-3.429,-3.534],[-3.869,-3.573],[-3.854,-3.581],[-3.787,-3.612],[-3.69,-3.597],[-3.347,-3.581],[-3.228,-3.636],[-3.273,-3.659],[-3.385,-3.652],[-3.489,-3.652],[-3.444,-3.636],[-3.422,-3.699],[-3.66,-3.675],[-3.593,-3.699],[-3.571,-3.675],[-3.809,-3.707],[-3.973,-3.734],[-3.511,-3.746],[-3.474,-3.738],[-3.184,-3.754],[-3.437,-3.809],[-3.816,-3.825],[-3.764,-3.833],[-3.638,-3.856],[-3.566,-3.841],[-3.481,-3.856],[-3.322,-3.888],[-3.869,-3.903],[-3.59,-3.935],[-3.819,-3.982],[-3.437,-3.974],[-3.385,-4.006],[-3.626,-4.014],[-3.14,-3.27],[-3.12,-3.23],[-3.1,-3.24],[-3.15,-3.3],[-3.08,-3.28],[-3.16,-3.24],[-3.11,-3.3],[-3.07,-3.22],[-3.13,-3.21],[-3.09,-3.19],[-3.05,-3.2]];

// AGC 242019: x, xLow, xHigh, y, yLow, yHigh
const agcX = [-4.442,-4.341,-4.27,-4.349,-4.364,-4.358,-4.423,-4.494,-4.224,-4.731,-4.839,-4.679,-4.463,-4.489];
const agcXLow = [-4.624,-4.52,-4.432,-4.516,-4.53,-4.53,-4.6,-4.656,-4.384,-4.974,-5.068,-4.905,-4.635,-4.675];
const agcXHigh = [-4.299,-4.195,-4.137,-4.2,-4.208,-4.228,-4.28,-4.332,-4.076,-4.563,-4.6,-4.52,-4.321,-4.341];
const agcY = [-3.886,-4.03,-4.266,-4.27,-4.297,-4.352,-4.421,-4.4,-4.444,-4.465,-4.676,-4.741,-4.627,-4.668];
const agcYLow = [-4.05,-4.25,-4.4,-4.42,-4.496,-4.5,-4.572,-4.544,-4.606,-4.675,-4.88,-4.946,-4.778,-4.843];
const agcYHigh = [-3.756,-3.9,-4.142,-4.15,-4.17,-4.2,-4.29,-4.27,-4.315,-4.311,-4.528,-4.59,-4.499,-4.53];

const typicalBars = [
  { color: "#0000ff", x: -0.3, xLow: -0.482, xHigh: -0.171, y: -3.0, yLow: -3.136, yHigh: -2.903 },
  { color: "#696969", x: -0.3, xLow: -0.515, xHigh: -0.155, y: -3.5, yLow: -3.774, yHigh: -3.347 },
];

const densityLayers: [number[][], string][] = [
  [navyPoints, "0,0,150"],
  [bluePoints, "0,0,255"],
  [azurePoints, "0,90,255"],
  [skyPoints, "0,160,255"],
  [cyanPoints, "0,225,255"],
  [aquaPoints, "50,255,200"],
  [greenPoints, "125,255,120"],
  [limePoints, "190,255,50"],
  [yellowPoints, "255,235,0"],
  [orangePoints, "255,140,0"],
  [redPoints, "250,40,0"],
  [darkRedPoints, "150,0,0"],
];

const MAGENTA = "#bf00bf";
const DIM = "#696969";

function makeStar(): HTMLCanvasElement {
  const c = document.createElement("canvas");
  c.width = 40;
  c.height = 40;
  const g = c.getContext("2d")!;
  g.fillStyle = MAGENTA;
  g.beginPath();
  for (let i = 0; i < 10; i++) {
    const r = i % 2 === 0 ? 15 : 6.5;
    const a = -Math.PI / 2 + (i * Math.PI) / 5;
    const px = 20 + r * Math.cos(a);
    const py = 21 + r * Math.sin(a);
    if (i === 0) g.moveTo(px, py);
    else g.lineTo(px, py);
  }
  g.closePath();
  g.fill();
  return c;
}

function makeTriangle(): HTMLCanvasElement {
  const c = document.createElement("canvas");
  c.width = 32;
  c.height = 32;
  const g = c.getContext("2d")!;
  g.strokeStyle = DIM;
  g.lineWidth = 3.4;
  g.lineJoin = "miter";
  g.miterLimit = 10;
  g.beginPath();
  g.moveTo(16, 8);
  g.lineTo(8, 24);
  g.lineTo(24, 24);
  g.closePath();
  g.stroke();
  return c;
}

type Seg = { t: string; i?: boolean; s?: number; dy?: number; hold?: boolean };

function fontFor(seg: Seg, size: number) {
  return `${seg.i ? "italic " : ""}${size * (seg.s ?? 1)}px ${FONT}`;
}
function drawSegs(ctx: CanvasRenderingContext2D, segs: Seg[], x: number, y: number, size: number, center: boolean) {
  let w = 0;
  let hold = 0;
  for (const seg of segs) {
    ctx.font = fontFor(seg, size);
    const m = ctx.measureText(seg.t).width;
    if (seg.hold) hold = m;
    else {
      w += Math.max(m, hold);
      hold = 0;
    }
  }
  let px = center ? x - w / 2 : x;
  hold = 0;
  ctx.textAlign = "left";
  ctx.textBaseline = "alphabetic";
  for (const seg of segs) {
    ctx.font = fontFor(seg, size);
    const m = ctx.measureText(seg.t).width;
    ctx.fillText(seg.t, px, y + (seg.dy ?? 0) * size);
    if (seg.hold) hold = m;
    else {
      px += Math.max(m, hold);
      hold = 0;
    }
  }
}

const xLabelSegs: Seg[] = [
  { t: "log(" },
  { t: "ρ", i: true },
  { t: "0.5", s: 0.7, dy: -0.42, hold: true },
  { t: "star", i: true, s: 0.7, dy: 0.2 },
  { t: "\u200Aρ", i: true },
  { t: "gas", i: true, s: 0.7, dy: 0.2 },
  { t: "[(" },
  { t: "M", i: true },
  { t: "sun", i: true, s: 0.7, dy: 0.2 },
  { t: "\u200Apc", i: true },
  { t: "−3", s: 0.7, dy: -0.42 },
  { t: ")" },
  { t: "1.5", s: 0.7, dy: -0.42 },
  { t: "])" },
];
const yLabelSegs: Seg[] = [
  { t: "log(" },
  { t: "ρ", i: true },
  { t: "SFR", s: 0.7, dy: 0.2 },
  { t: "\u200A[M" },
  { t: "⊙", s: 0.7, dy: 0.2 },
  { t: "\u200Ayr" },
  { t: "−1", s: 0.7, dy: -0.42 },
  { t: "kpc" },
  { t: "−3", s: 0.7, dy: -0.42 },
  { t: "\u200A])" },
];
const legendFit: Seg[] = [
  { t: "α", i: true },
  { t: "\u200AVES", s: 0.7, dy: -0.42 },
  { t: " =0.939" },
];
const legendSigma: Seg[] = [{ t: "1-" }, { t: "σ", i: true }, { t: "\u2009=\u20090.252" }];

function makeOverlay(star: HTMLCanvasElement, tri: HTMLCanvasElement) {
  return {
    id: "overlay",
    afterDraw(chart: any) {
      const { ctx, chartArea: a, scales } = chart;
      const sx = scales.x;
      const sy = scales.y;
      ctx.save();

      // typical error bars
      for (const b of typicalBars) {
        const px = sx.getPixelForValue(b.x);
        const py = sy.getPixelForValue(b.y);
        const xl = sx.getPixelForValue(b.xLow);
        const xh = sx.getPixelForValue(b.xHigh);
        const yl = sy.getPixelForValue(b.yLow);
        const yh = sy.getPixelForValue(b.yHigh);
        ctx.strokeStyle = b.color;
        ctx.lineWidth = 6;
        ctx.beginPath();
        ctx.moveTo(xl, py);
        ctx.lineTo(xh, py);
        ctx.moveTo(px, yl);
        ctx.lineTo(px, yh);
        ctx.stroke();
        ctx.lineWidth = 4;
        ctx.beginPath();
        ctx.moveTo(xl, py - 9);
        ctx.lineTo(xl, py + 9);
        ctx.moveTo(xh, py - 9);
        ctx.lineTo(xh, py + 9);
        ctx.moveTo(px - 9, yl);
        ctx.lineTo(px + 9, yl);
        ctx.moveTo(px - 9, yh);
        ctx.lineTo(px + 9, yh);
        ctx.stroke();
      }
      ctx.textAlign = "left";
      ctx.textBaseline = "alphabetic";
      ctx.font = `34.8px ${FONT}`;
      ctx.fillStyle = "#0000ff";
      ctx.fillText("typical errorbar for spirals", 1539, 1118);
      ctx.fillStyle = DIM;
      ctx.fillText("typical errorbar for dwarfs", 1539, 1240);

      // "(b)"
      ctx.fillStyle = "#000";
      ctx.font = `104px ${FONT}`;
      ctx.fillText("(b)", 345, 267);

      // legend
      ctx.strokeStyle = "#ff0000";
      ctx.lineWidth = 5;
      ctx.beginPath();
      ctx.moveTo(1434, 1423);
      ctx.lineTo(1543, 1423);
      ctx.stroke();
      ctx.fillStyle = "#fde8e6";
      ctx.fillRect(1436, 1481, 104, 36);
      ctx.drawImage(tri, 1472, 1564);
      ctx.strokeStyle = MAGENTA;
      ctx.lineWidth = 5;
      ctx.beginPath();
      ctx.moveTo(1463, 1652);
      ctx.lineTo(1515, 1652);
      ctx.moveTo(1489, 1626);
      ctx.lineTo(1489, 1678);
      ctx.stroke();
      ctx.drawImage(star, 1469, 1632);
      ctx.fillStyle = "#000";
      drawSegs(ctx, legendFit, 1583, 1439, 52, false);
      drawSegs(ctx, legendSigma, 1583, 1517, 52, false);
      ctx.font = `52px ${FONT}`;
      ctx.fillText("Dwarf galaxies", 1583, 1592);
      ctx.fillText("AGC 242019", 1583, 1669);

      // ticks pointing inward
      ctx.strokeStyle = "#000";
      for (const tick of sx.ticks) {
        const major = Number.isInteger(tick.value);
        const px = Math.round(sx.getPixelForValue(tick.value));
        ctx.lineWidth = major ? 3 : 2.4;
        ctx.beginPath();
        ctx.moveTo(px, a.bottom);
        ctx.lineTo(px, a.bottom - (major ? 12 : 7));
        ctx.stroke();
      }
      for (const tick of sy.ticks) {
        const major = Number.isInteger(tick.value);
        const py = Math.round(sy.getPixelForValue(tick.value));
        ctx.lineWidth = major ? 3 : 2.4;
        ctx.beginPath();
        ctx.moveTo(a.left, py);
        ctx.lineTo(a.left + (major ? 12 : 7), py);
        ctx.stroke();
      }

      // frame
      ctx.lineWidth = 3;
      ctx.strokeStyle = "#000";
      ctx.strokeRect(a.left, a.top, a.right - a.left, a.bottom - a.top);

      // axis titles
      ctx.fillStyle = "#000";
      drawSegs(ctx, xLabelSegs, (a.left + a.right) / 2, 1850, 52, true);
      ctx.translate(75, (a.top + a.bottom) / 2);
      ctx.rotate(-Math.PI / 2);
      drawSegs(ctx, yLabelSegs, 0, 0, 52, true);
      ctx.restore();
    },
  };
}

const toXY = (pts: number[][]) => pts.map(([x, y]) => ({ x, y }));

function segmentsX() {
  const d: any[] = [];
  agcX.forEach((_, i) => {
    d.push({ x: agcXLow[i], y: agcY[i] }, { x: agcXHigh[i], y: agcY[i] }, { x: NaN, y: NaN });
  });
  return d;
}
function segmentsY() {
  const d: any[] = [];
  agcX.forEach((x, i) => {
    d.push({ x, y: agcYLow[i] }, { x, y: agcYHigh[i] }, { x: NaN, y: NaN });
  });
  return d;
}

export default function App() {
  const ref = useRef<HTMLCanvasElement | null>(null);
  useEffect(() => {
    const star = makeStar();
    const tri = makeTriangle();
    const lineDs = (data: any[], color: string, width: number, order: number, extra: any = {}) => ({
      data,
      showLine: true,
      borderColor: color,
      borderWidth: width,
      pointRadius: 0,
      tension: 0,
      order,
      ...extra,
    });
    const datasets: any[] = [
      lineDs(toXY(fitX.map((x, i) => [x, bandUpperY[i]])), "rgba(0,0,0,0)", 0, 1000, {
        fill: "+1",
        backgroundColor: "#fde8e6",
      }),
      lineDs(toXY(fitX.map((x, i) => [x, bandLowerY[i]])), "rgba(0,0,0,0)", 0, 1001),
    ];
    densityLayers.forEach(([pts, rgb], i) => {
      datasets.push({
        data: toXY(pts),
        backgroundColor: `rgba(${rgb},0.5)`,
        borderColor: `rgba(${rgb},0.5)`,
        borderWidth: 2.5,
        pointRadius: 5.8,
        order: 900 - i,
      });
    });
    datasets.push({
      data: toXY(dwarfPoints),
      pointStyle: tri,
      pointRadius: 12,
      order: 50,
    });
    datasets.push(lineDs(toXY(fitX.map((x, i) => [x, fitY[i]])), "#ff0000", 5.5, 40));
    datasets.push(lineDs(segmentsX(), MAGENTA, 5, 30));
    datasets.push(lineDs(segmentsY(), MAGENTA, 5, 29));
    datasets.push({
      data: agcX.map((x, i) => ({ x, y: agcY[i] })),
      pointStyle: star,
      pointRadius: 15,
      order: 20,
    });

    const tickFmt = (v: any) => (Number.isInteger(v) ? Number(v).toFixed(1) : "");
    const chart = new Chart(ref.current!, {
      type: "scatter",
      data: { datasets },
      plugins: [makeOverlay(star, tri)],
      options: {
        animation: false,
        responsive: false,
        devicePixelRatio: 1,
        events: [],
        layout: { padding: { top: 25, right: 25, left: 0, bottom: 0 } },
        plugins: { legend: { display: false }, tooltip: { enabled: false } },
        scales: {
          x: {
            type: "linear",
            min: -5.25,
            max: 1.75,
            afterFit: (s: any) => {
              s.height = 169;
              s.paddingLeft = 0;
              s.paddingRight = 0;
            },
            grid: { display: false },
            border: { display: false },
            ticks: {
              stepSize: 0.25,
              autoSkip: false,
              maxRotation: 0,
              padding: 5,
              color: "#000",
              font: { family: FONT, size: 52 },
              callback: tickFmt,
            },
          },
          y: {
            type: "linear",
            min: -5.5,
            max: 1.5,
            afterFit: (s: any) => {
              s.width = 216;
              s.paddingTop = 0;
              s.paddingBottom = 0;
            },
            grid: { display: false },
            border: { display: false },
            ticks: {
              stepSize: 0.25,
              autoSkip: false,
              padding: 6,
              labelOffset: 2,
              color: "#000",
              font: { family: FONT, size: 52 },
              callback: tickFmt,
            },
          },
        },
      },
    } as any);
    return () => chart.destroy();
  }, []);
  return (
    <div style={{ position: "absolute", left: 0, top: 0, width: 2040, height: 1894, background: "#fff" }}>
      <canvas ref={ref} width={2040} height={1894} style={{ display: "block" }} />
    </div>
  );
}
